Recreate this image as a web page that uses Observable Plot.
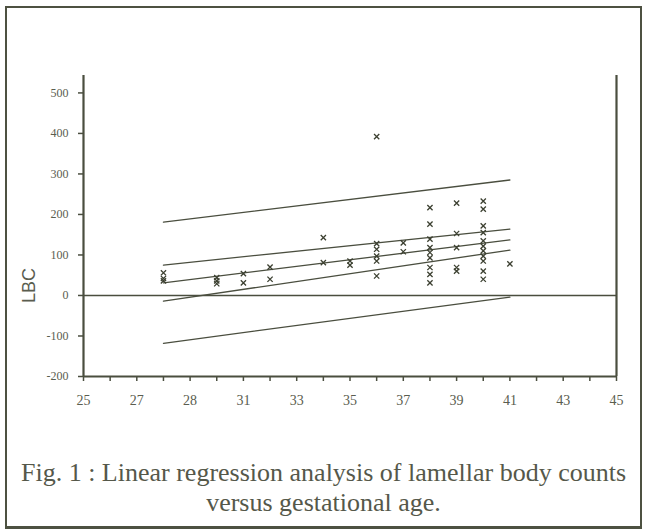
<!DOCTYPE html>
<html><head><meta charset="utf-8">
<script src="https://cdn.jsdelivr.net/npm/d3@7"></script>
<script src="https://cdn.jsdelivr.net/npm/@observablehq/plot@0.6"></script>
<style>
html,body{margin:0;padding:0;background:#fff;}
#wrap{position:relative;width:647px;height:531px;overflow:hidden;background:#fff;}
#frame{position:absolute;left:5px;top:6px;width:637px;height:523px;border:2px solid #4d5141;border-bottom-width:3px;box-sizing:border-box;}
#chart{position:absolute;left:0;top:0;}
#caption{position:absolute;left:0;top:458px;width:647px;text-align:center;font-family:"Liberation Serif",serif;font-size:26px;line-height:30px;color:#55584a;}
</style></head>
<body>
<div id="wrap">
  <div id="frame"></div>
  <div id="chart"></div>
  <div id="caption">Fig. 1 : Linear regression analysis of lamellar body counts<br>versus gestational age.</div>
</div>
<script>
// gestational age (weeks) of each observation
const gestAge = [28,28,28, 30,30,30, 31,31, 32,32, 34,34, 35,35,
  36,36,36,36,36,36, 37,37,
  38,38,38,38,38,38,38,38,38,
  39,39,39,39,39,
  40,40,40,40,40,40,40,40,40,40,40,
  41];
// lamellar body counts
const lbcValues = [56,42,36, 44,36,29, 31,54, 70,40, 143,81, 85,75,
  392,128,114,97,85,48, 130,108,
  217,176,139,118,106,93,69,52,31,
  228,153,118,69,60,
  233,213,172,155,135,122,110,97,85,60,40,
  78];

// regression lines (end points at x = 28 and x = 41)
const lineX = [28, 41];
const upperPrediction = [181, 285];
const upperConfidence = [75, 164];
const regressionFit = [31, 137];
const lowerConfidence = [-14, 112];
const lowerPrediction = [-118, -4];

// axis ticks and labels as printed
const xMinorTicks = d3.range(25, 46);
const xTickValues = [25,27,29,31,33,35,37,39,41,43,45];
const xTickLabels = ["25","27","28","31","33","35","37","39","41","43","45"];
const yTickValues = [500,400,300,200,100,0,-100,-200];
const yTickLabels = ["500","400","300","200","100","0","-100","-200"];

const points = gestAge.map((g, i) => ({ga: g, lbc: lbcValues[i]}));
const seriesDefs = [
  ["upper prediction", upperPrediction],
  ["upper confidence", upperConfidence],
  ["regression", regressionFit],
  ["lower confidence", lowerConfidence],
  ["lower prediction", lowerPrediction]
];
const lines = seriesDefs.flatMap(([name, ys]) => ys.map((v, i) => ({series: name, x: lineX[i], y: v})));
const xLabelMap = new Map(xTickValues.map((v, i) => [v, xTickLabels[i]]));
const yLabelMap = new Map(yTickValues.map((v, i) => [v, yTickLabels[i]]));

const ink = "#4a4e3f";
const textInk = "#5a5d4f";

const chart = Plot.plot({
  width: 647, height: 420,
  marginLeft: 83, marginRight: 31, marginTop: 75, marginBottom: 44,
  x: {domain: [25, 45], label: null},
  y: {domain: [-200, 543], label: null},
  style: {fontFamily: "Liberation Serif, serif", color: textInk, background: "transparent", overflow: "visible"},
  marks: [
    Plot.ruleY([0], {stroke: ink, strokeWidth: 1.3}),
    Plot.line(lines, {x: "x", y: "y", z: "series", stroke: ink, strokeWidth: 1.3}),
    Plot.dot(points, {x: "ga", y: "lbc", symbol: "times", r: 2.5, stroke: "#3c4031", strokeWidth: 1.3}),
    Plot.axisX({ticks: xMinorTicks, tickSize: 5, tickFormat: () => "", stroke: ink, strokeWidth: 1.5}),
    Plot.axisX({ticks: xTickValues, tickSize: 0, tickPadding: 19, tickFormat: d => xLabelMap.get(d), fontSize: 14, fill: textInk}),
    Plot.axisY({ticks: yTickValues, tickSize: 5, tickPadding: 10, tickFormat: d => yLabelMap.get(d), fontSize: 12, fill: textInk, stroke: ink, strokeWidth: 1.5}),
    Plot.ruleX([25], {stroke: ink, strokeWidth: 2.2}),
    Plot.ruleX([45], {stroke: ink, strokeWidth: 2.2}),
    Plot.ruleY([-200], {stroke: ink, strokeWidth: 2.2}),
    Plot.text(["LBC"], {frameAnchor: "left", dx: -54, dy: 77, rotate: -90, fontSize: 18, fontFamily: "Liberation Sans, sans-serif", fill: textInk})
  ]
});
document.getElementById("chart").appendChild(chart);
</script>
</body></html>
